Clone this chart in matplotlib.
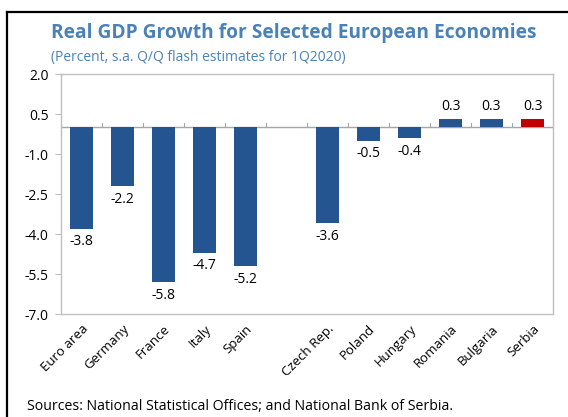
import numpy as np
import matplotlib.pyplot as plt
from matplotlib.lines import Line2D

# Real GDP growth, q/q s.a., flash estimates for 1Q2020
countries = ['Euro area', 'Germany', 'France', 'Italy', 'Spain', '',
             'Czech Rep.', 'Poland', 'Hungary', 'Romania', 'Bulgaria', 'Serbia']
growth = [-3.8, -2.2, -5.8, -4.7, -5.2, np.nan,
          -3.6, -0.5, -0.4, 0.3, 0.3, 0.3]
yticks = [2.0, 0.5, -1.0, -2.5, -4.0, -5.5, -7.0]

blue = '#255591'
red = '#C00000'
title_blue = '#4A82B8'
grey = '#BFBFBF'

plt.rcParams['font.family'] = ['Open Sans', 'DejaVu Sans']

fig = plt.figure(figsize=(5.68, 4.17), dpi=100)
W, H = 568., 417.
ax = fig.add_axes([61 / W, 1 - 314 / H, 492 / W, 240 / H])

x = np.arange(len(countries))
colors = [red if c == 'Serbia' else blue for c in countries]
ax.bar(x, growth, 0.57, color=colors, edgecolor='none', zorder=2)

for xi, v in zip(x, growth):
    if np.isnan(v):
        continue
    if v < 0:
        ax.annotate('%.1f' % v, (xi, v), xytext=(0, -4), textcoords='offset points',
                    ha='center', va='top', fontsize=10)
    else:
        ax.annotate('%.1f' % v, (xi, v), xytext=(0, 4), textcoords='offset points',
                    ha='center', va='bottom', fontsize=10)

ax.axhline(0, color='#A6A6A6', lw=1, zorder=1)
# category separators sitting on the zero line
for b in np.arange(len(countries) + 1) - 0.5:
    ax.plot([b, b], [0, 0.18], color='#A6A6A6', lw=0.8, zorder=1)

ax.set_xlim(-0.5, len(countries) - 0.5)
ax.set_ylim(-7.0, 2.0)
ax.set_yticks(yticks)
ax.set_yticklabels(['%.1f' % t for t in yticks], fontsize=10)
ax.set_xticks(x)
ax.set_xticklabels(countries, rotation=45, ha='right', rotation_mode='anchor', fontsize=9.5)
ax.tick_params(axis='x', length=0, pad=6)
ax.tick_params(axis='y', length=4, color=grey, pad=5)
for s in ax.spines.values():
    s.set_color(grey)
    s.set_linewidth(1)

fig.text(51 / W, 1 - 33 / H, 'Real GDP Growth for Selected European Economies',
         fontsize=13.8, fontweight='bold', color=title_blue, va='center')
fig.text(51 / W, 1 - 57 / H, '(Percent, s.a. Q/Q flash estimates for 1Q2020)',
         fontsize=10, color=title_blue, va='center')
fig.text(27 / W, 1 - 406 / H, 'Sources: National Statistical Offices; and National Bank of Serbia.',
         fontsize=10.2, va='center')

# outer frame (left and top edges)
fig.add_artist(Line2D([7 / W, 7 / W], [0, 1 - 12 / H], color='black', lw=1.6,
                      transform=fig.transFigure))
fig.add_artist(Line2D([7 / W, 1], [1 - 12 / H, 1 - 12 / H], color='black', lw=1.6,
                      transform=fig.transFigure))

plt.savefig('out.png', dpi=100)
